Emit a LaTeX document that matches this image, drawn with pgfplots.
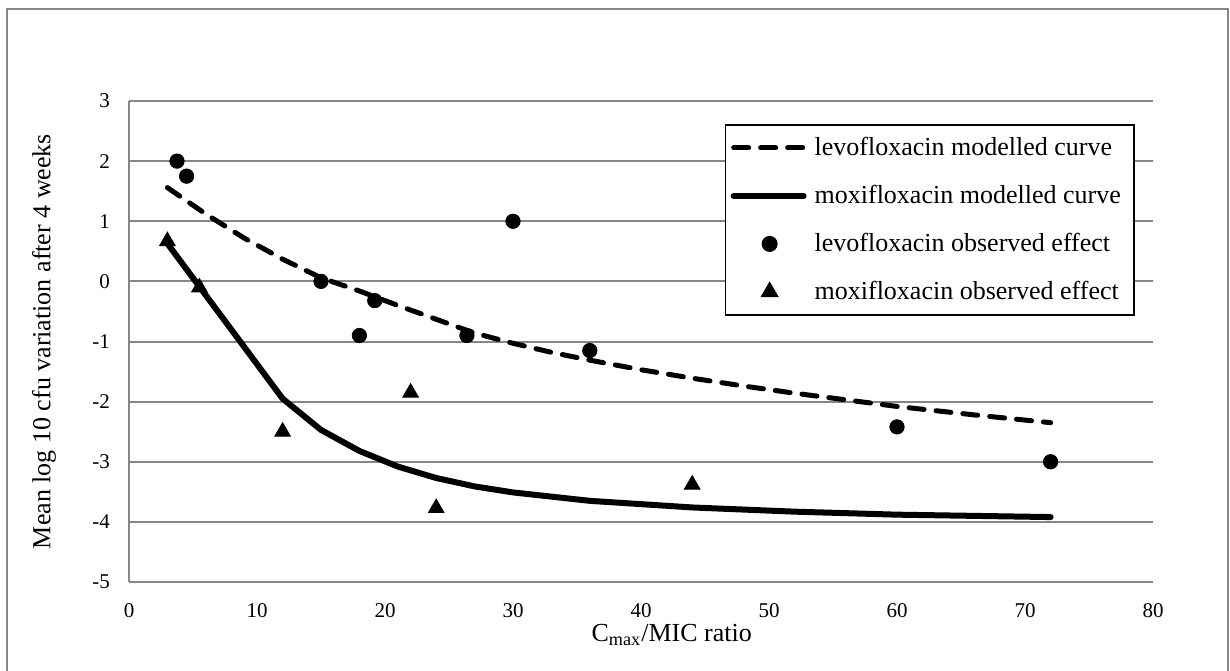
\documentclass[border=0pt]{standalone}
\usepackage{pgfplots}
\pgfplotsset{compat=1.18}
\usepackage{fontspec}
\setmainfont{Liberation Serif}
\definecolor{gridgray}{RGB}{134,134,134}
\pgfplotsset{
  lineleg/.style={legend image code/.code={\draw[##1] (0pt,0pt) -- (35pt,0pt);}},
  markleg/.style={legend image code/.code={\draw[##1] plot coordinates {(18pt,0pt)};}},
}

\begin{document}
\begin{tikzpicture}[x=1pt,y=1pt]
  \useasboundingbox (0,0) rectangle (615,335);
  % outer chart frame
  \draw[gridgray, line width=1.2pt] (3.5,-5) -- (3.5,330.6) -- (614,330.6) -- (614,-5);
  \begin{axis}[
    at={(64.5pt,44pt)}, anchor=south west,
    scale only axis, width=512pt, height=240.5pt,
    xmin=0, xmax=80, ymin=-5, ymax=3,
    xtick={0,10,...,80}, ytick={-5,-4,...,3},
    axis lines*=left,
    axis line style={gridgray, line width=1pt},
    ymajorgrids, grid style={gridgray, line width=1pt},
    major tick length=0pt,
    tick label style={font=\fontsize{10.5}{12}\selectfont},
    /pgf/number format/assume math mode=true,
    yticklabel style={xshift=-6pt},
    xticklabel style={yshift=-7pt},
    xlabel={C\textsubscript{max}/MIC ratio},
    ylabel={Mean log 10 cfu variation after 4 weeks},
    label style={font=\fontsize{13}{15}\selectfont},
    xlabel style={at={(axis description cs:0.530,-0.1247)}, anchor=base},
    ylabel style={at={(axis description cs:-0.083,0.5)}, anchor=center},
    legend cell align=left,
    legend style={at={(0.982,0.952)}, anchor=north east, draw=black,
      line width=0.8pt, font=\fontsize{13}{15}\selectfont,
      row sep=6pt, inner sep=2.5pt,
      nodes={inner sep=4pt, text height=9pt, text depth=1pt}},
  ]
    % levofloxacin modelled curve
    \addplot[black, line width=2.5pt, dash pattern=on 7.5pt off 6pt, line cap=round, lineleg]
      coordinates {
        (3,1.56) (6,1.12) (9,0.72) (12,0.37) (15,0.06) (18,-0.16) (21,-0.40)
        (24,-0.63) (27,-0.86) (30,-1.03) (33,-1.18) (36,-1.31) (40,-1.47)
        (44,-1.61) (48,-1.74) (52,-1.86) (56,-1.97) (60,-2.08) (66,-2.22) (72,-2.35)
      };
    \addlegendentry{levofloxacin modelled curve}
    % moxifloxacin modelled curve
    \addplot[black, line width=3pt, line cap=round, line join=round, lineleg]
      coordinates {
        (3,0.63) (12,-1.95) (15,-2.47) (18,-2.82) (21,-3.08) (24,-3.27)
        (27,-3.41) (30,-3.51) (36,-3.65) (44,-3.76) (52,-3.83) (60,-3.88) (72,-3.92)
      };
    \addlegendentry{moxifloxacin modelled curve}
    % levofloxacin observed
    \addplot[black, only marks, mark=*, mark size=3.6pt, markleg]
      coordinates {
        (3.75,2.0) (4.5,1.75) (15,0) (18,-0.9) (19.2,-0.32) (26.4,-0.9)
        (30,1.0) (36,-1.15) (60,-2.42) (72,-3.0)
      };
    \addlegendentry{levofloxacin observed effect}
    % moxifloxacin observed
    \addplot[black, only marks, mark=triangle*, mark size=4.5pt, markleg]
      coordinates {
        (3,0.67) (5.5,-0.1) (12,-2.5) (22,-1.85) (24,-3.77) (44,-3.38)
      };
    \addlegendentry{moxifloxacin observed effect}
  \end{axis}
\end{tikzpicture}
\end{document}
